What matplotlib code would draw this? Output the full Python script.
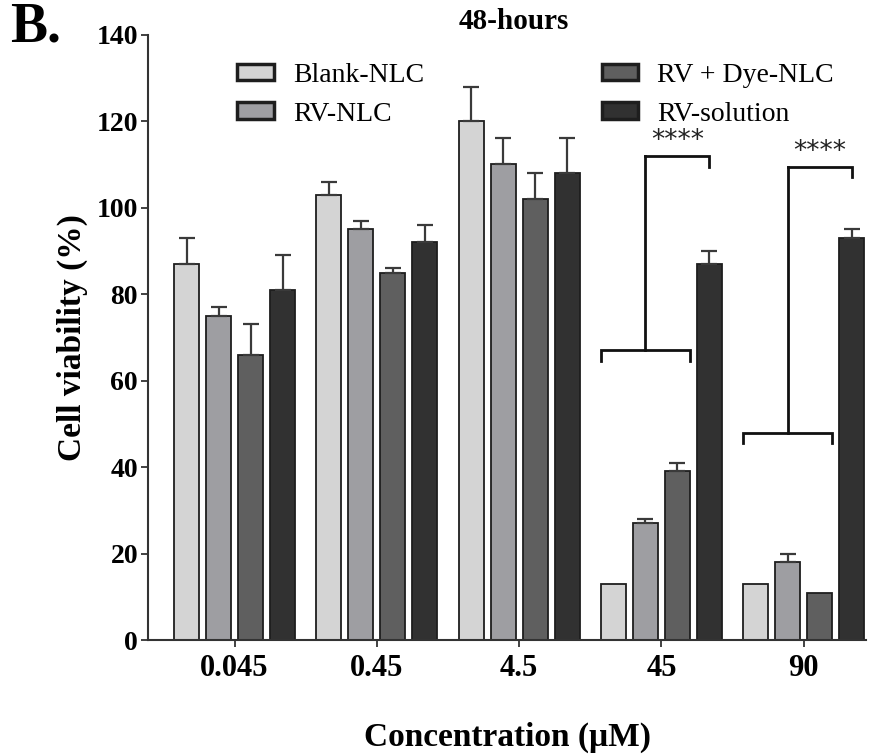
import matplotlib
matplotlib.use("Agg")
import matplotlib.pyplot as plt
import numpy as np

concentrations = ["0.045", "0.45", "4.5", "45", "90"]
series_names = ["Blank-NLC", "RV-NLC", "RV + Dye-NLC", "RV-solution"]
blank_nlc = [87, 103, 120, 13, 13]
blank_err = [6, 3, 8, 0, 0]
rv_nlc = [75, 95, 110, 27, 18]
rv_nlc_err = [2, 2, 6, 1, 2]
rv_dye_nlc = [66, 85, 102, 39, 11]
rv_dye_err = [7, 1, 6, 2, 0]
rv_solution = [81, 92, 108, 87, 93]
rv_solution_err = [8, 4, 8, 3, 2]
colors = ["#d4d4d4", "#9e9ea2", "#5f5f5f", "#313131"]

# significance brackets: group index, lower bracket level, upper bracket level
sig_groups = [3, 4]
sig_lower = [67, 48]
sig_upper = [112, 109.5]
sig_label = "****"

plt.rcParams["font.family"] = ["Liberation Serif", "DejaVu Serif"]

fig = plt.figure(figsize=(8.69, 7.54), dpi=100)
ax = fig.add_axes([0.170, 0.151, 0.827, 0.803])

values = [blank_nlc, rv_nlc, rv_dye_nlc, rv_solution]
errors = [blank_err, rv_nlc_err, rv_dye_err, rv_solution_err]
x = np.arange(len(concentrations))
step = 0.225
width = 0.176
offsets = (np.arange(4) - 1.5) * step

for i in range(4):
    ax.bar(x + offsets[i], values[i], width, color=colors[i], edgecolor="#1e1e1e",
           linewidth=1.3, label=series_names[i], zorder=2)
    err = np.array(errors[i], dtype=float)
    mask = err > 0
    ax.errorbar((x + offsets[i])[mask], np.array(values[i])[mask],
                yerr=[np.zeros(mask.sum()), err[mask]], fmt="none",
                ecolor="#3a3a3a", elinewidth=1.6, capsize=6, capthick=1.6, zorder=3)

# significance brackets
for g, lo, hi in zip(sig_groups, sig_lower, sig_upper):
    left = g + offsets[0] - width / 2
    right = g + offsets[2] + width / 2
    mid = (left + right) / 2
    sol = g + offsets[3]
    dlo = 2.5
    ax.plot([left, left, right, right], [lo - dlo, lo, lo, lo - dlo], color="#111111", lw=2, zorder=4,
            solid_joinstyle="miter")
    ax.plot([mid, mid], [lo, hi], color="#111111", lw=2, zorder=4)
    ax.plot([mid, sol, sol], [hi, hi, hi - dlo], color="#111111", lw=2, zorder=4,
            solid_joinstyle="miter")
    ax.text((mid + sol) / 2, hi + 0.3, sig_label, ha="center", va="bottom",
            fontsize=19, family="DejaVu Sans", color="#222222")

ax.set_xlim(-0.61, 4.44)
ax.set_ylim(0, 140)
ax.set_yticks(np.arange(0, 141, 20))
ax.set_xticks(x)
ax.set_xticklabels(concentrations, fontsize=22, fontweight="bold")
for lbl in ax.get_yticklabels():
    lbl.set_fontsize(20)
    lbl.set_fontweight("bold")

for s in ["top", "right"]:
    ax.spines[s].set_visible(False)
for s in ["left", "bottom"]:
    ax.spines[s].set_linewidth(1.5)
    ax.spines[s].set_color("#333333")
ax.tick_params(axis="y", length=5, width=1.3, color="#333333", pad=2)
ax.tick_params(axis="x", length=5, width=1.3, color="#333333", pad=5)

ax.set_ylabel("Cell viability (%)", fontsize=24, fontweight="bold", labelpad=6)
ax.set_xlabel("Concentration (\u03bcM)", fontsize=24, fontweight="bold", labelpad=28)
ax.set_title("48-hours", fontsize=21, fontweight="bold", pad=2, x=0.51)

fig.text(0.012, 0.945, "B.", fontsize=40, fontweight="bold", ha="left", va="baseline")

leg = ax.legend(ncol=2, loc="upper left", bbox_to_anchor=(0.09, 0.995), frameon=False,
                fontsize=20, handlelength=1.3, handleheight=0.55, columnspacing=6.4,
                labelspacing=0.5, handletextpad=0.7)
for h in leg.legend_handles:
    h.set_linewidth(2.5)

fig.savefig("out.png", dpi=100)
